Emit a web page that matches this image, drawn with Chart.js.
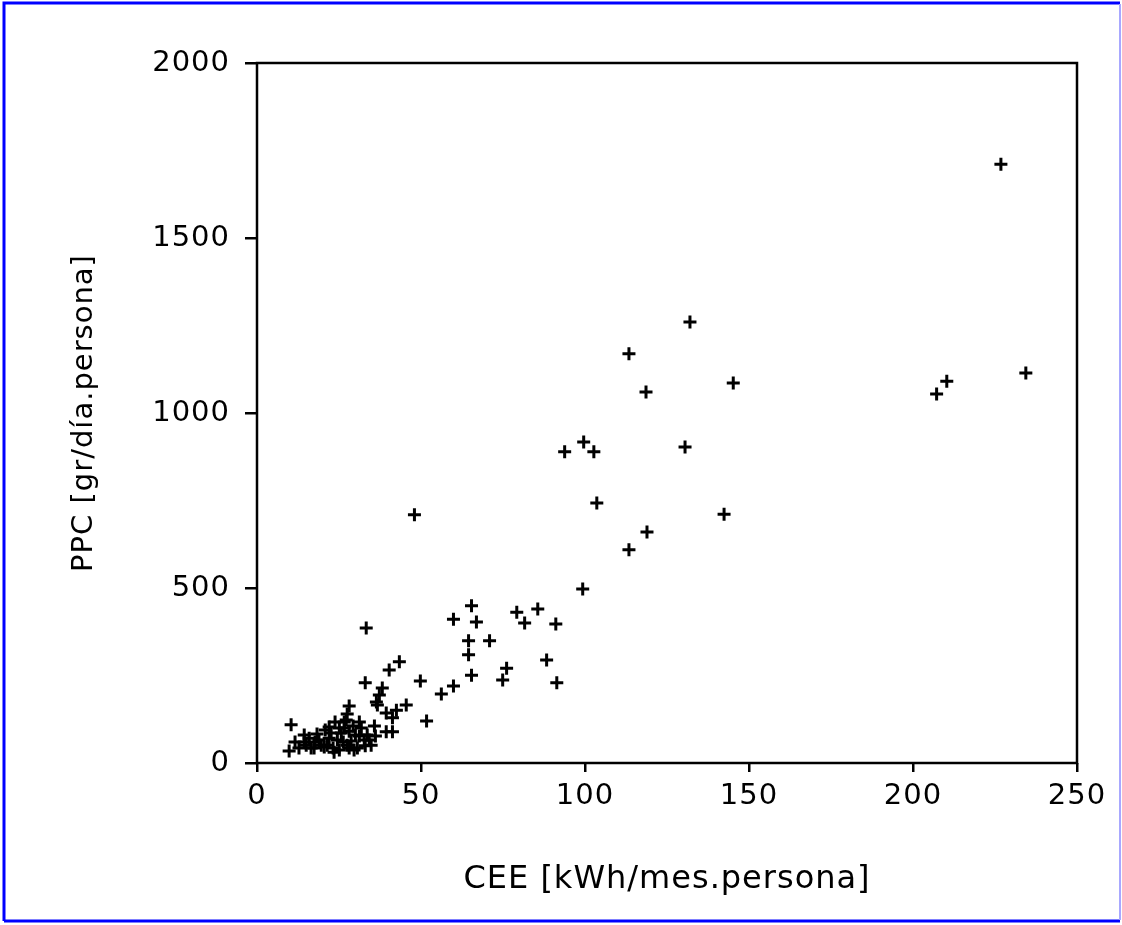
<!DOCTYPE html>
<html>
<head>
<meta charset="utf-8">
<script src="https://cdn.jsdelivr.net/npm/chart.js@4/dist/chart.umd.min.js"></script>
<style>
  html, body { margin: 0; padding: 0; background: #fff; }
  #wrap { width: 1122px; height: 925px; position: relative; }
</style>
</head>
<body>
<div id="wrap"><canvas id="chart" width="1122" height="925"></canvas></div>
<script>
// CEE [kWh/mes.persona] per point
var ceeValues = [
    12.8, 14.4, 15.9, 17.7, 18.3, 19.6, 20.8, 22.0, 23.2, 24.5,
    25.7, 26.6, 27.5, 28.1, 28.7, 30.0, 30.6, 31.8, 32.7, 33.6,
    34.8, 27.5, 28.1, 26.6, 20.5, 16.5, 25.1, 29.6, 22.0, 23.8,
    14.4, 17.4, 18.9, 21.4, 22.6, 25.1, 26.3, 29.3, 31.2, 33.0,
    34.2, 36.1, 15.0, 23.5, 28.1, 11.6, 31.2, 27.2,
    10.4, 9.8, 33.0, 37.3, 36.4, 38.2, 36.7, 39.4, 39.4, 35.8,
    41.3, 41.3, 42.5, 45.5, 43.4, 40.3, 49.8, 51.7, 56.2, 59.9,
    65.4, 74.9, 76.1, 88.3, 91.4, 64.5, 64.5, 70.9, 59.9, 66.9,
    65.4, 79.2, 81.6, 85.6, 91.1, 33.3, 99.3, 113.4, 118.9, 142.4,
    48.0, 103.6, 93.8, 99.6, 102.7, 130.5, 118.6, 113.4, 132.0, 145.2,
    207.2, 210.3, 234.4, 226.8
];
// PPC [gr/día.persona] per point
var ppcValues = [
    43, 60, 71, 60, 83, 51, 94, 71, 43, 66,
    86, 117, 51, 91, 63, 80, 43, 100, 66, 80,
    51, 140, 163, 100, 46, 43, 37, 37, 103, 117,
    80, 43, 66, 51, 86, 100, 60, 106, 77, 49,
    66, 77, 51, 31, 43, 60, 117, 123,
    109, 34, 229, 194, 174, 214, 166, 143, 89, 106,
    129, 89, 151, 166, 289, 266, 234, 120, 197, 220,
    251, 237, 271, 294, 229, 349, 309, 349, 411, 403,
    449, 431, 400, 440, 397, 386, 497, 609, 660, 711,
    709, 743, 889, 917, 889, 903, 1060, 1169, 1260, 1086,
    1054, 1091, 1114, 1711
];
var xTicks = [0, 50, 100, 150, 200, 250];
var yTicks = [0, 500, 1000, 1500, 2000];

var points = ceeValues.map(function (x, i) {
    return {x: x, y: ppcValues[i]};
});

var FONT = 'DejaVu Sans';

var frame = {
    id: 'frame',
    beforeDraw: function (chart) {
        // the original bitmap font is wider than DejaVu
        chart.ctx.letterSpacing = '1px';
    },
    afterDraw: function (chart) {
        var ctx = chart.ctx,
            a = chart.chartArea;
        ctx.save();
        // plot box
        ctx.strokeStyle = '#000';
        ctx.lineWidth = 2.5;
        ctx.strokeRect(a.left, a.top, a.right - a.left, a.bottom - a.top);
        // outer blue frame
        ctx.lineWidth = 3;
        ctx.strokeStyle = '#0000ff';
        ctx.beginPath();
        ctx.moveTo(4, 921); ctx.lineTo(4, 3); ctx.lineTo(1120, 3);
        ctx.moveTo(4, 921); ctx.lineTo(1120, 921);
        ctx.stroke();
        ctx.strokeStyle = '#a8a8ff';
        ctx.lineWidth = 2;
        ctx.beginPath();
        ctx.moveTo(1120, 4); ctx.lineTo(1120, 920);
        ctx.stroke();
        ctx.restore();
    }
};

function plain(v) { return String(v); }

new Chart(document.getElementById('chart'), {
    type: 'scatter',
    data: {
        datasets: [{
            data: points,
            pointStyle: 'cross',
            pointRadius: 6.5,
            pointHoverRadius: 6.5,
            borderColor: '#000',
            backgroundColor: '#000',
            borderWidth: 3
        }]
    },
    options: {
        responsive: false,
        animation: false,
        events: [],
        layout: {padding: {left: 0, top: 63, right: 45, bottom: 0}},
        plugins: {legend: {display: false}, tooltip: {enabled: false}},
        scales: {
            x: {
                type: 'linear',
                min: 0,
                max: 250,
                afterFit: function (s) { s.height = 162; },
                afterBuildTicks: function (s) {
                    s.ticks = xTicks.map(function (v) { return {value: v}; });
                },
                border: {display: false},
                grid: {drawOnChartArea: false, drawTicks: true, tickLength: 9, color: '#000', lineWidth: 2.5},
                ticks: {color: '#000', font: {family: FONT, size: 29}, padding: 7, maxRotation: 0, callback: plain},
                title: {
                    display: true,
                    text: 'CEE [kWh/mes.persona]',
                    color: '#000',
                    font: {family: FONT, size: 32},
                    padding: {top: 0, bottom: 26}
                }
            },
            y: {
                type: 'linear',
                min: 0,
                max: 2000,
                afterFit: function (s) { s.width = 257; },
                afterBuildTicks: function (s) {
                    s.ticks = yTicks.map(function (v) { return {value: v}; });
                },
                border: {display: false},
                grid: {drawOnChartArea: false, drawTicks: true, tickLength: 12, color: '#000', lineWidth: 2.5},
                ticks: {color: '#000', font: {family: FONT, size: 29}, padding: 15, callback: plain},
                title: {
                    display: true,
                    text: 'PPC [gr/día.persona]',
                    color: '#000',
                    font: {family: FONT, size: 29},
                    padding: {top: 67, bottom: 0}
                }
            }
        }
    },
    plugins: [frame]
});
</script>
</body>
</html>
